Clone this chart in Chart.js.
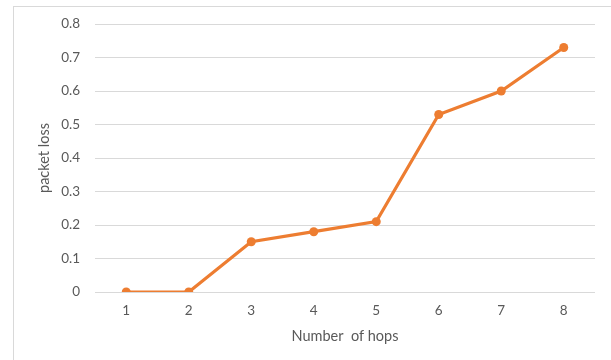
<!DOCTYPE html>
<html>
<head>
<meta charset="utf-8">
<script src="https://cdn.jsdelivr.net/npm/chart.js@4/dist/chart.umd.min.js"></script>
<style>
  html, body { margin: 0; padding: 0; background: #ffffff; }
  #wrap { position: relative; width: 611px; height: 360px; overflow: hidden; }
  #frame { position: absolute; left: 13px; top: 6px; width: 700px; height: 400px;
           border-left: 1px solid #d9d9d9; border-top: 1px solid #d9d9d9; box-sizing: border-box; }
  canvas { position: absolute; left: 0; top: 0; }
</style>
</head>
<body>
<div id="wrap">
  <div id="frame"></div>
  <canvas id="c" width="611" height="360"></canvas>
</div>
<script>
const categories = ['1', '2', '3', '4', '5', '6', '7', '8'];
const packetLoss = [0, 0, 0.15, 0.18, 0.21, 0.53, 0.60, 0.73];
const xTitle = 'Number  of hops';
const yTitle = 'packet loss';

const textColor = '#595959';
const tickFont = { family: 'Lato, "Open Sans", sans-serif', size: 13.5 };
const titleFont = { family: 'Lato, "Open Sans", sans-serif', size: 14.5 };

new Chart(document.getElementById('c'), {
  type: 'line',
  data: {
    labels: categories,
    datasets: [{
      data: packetLoss,
      borderColor: '#ED7D31',
      backgroundColor: '#ED7D31',
      borderWidth: 3.2,
      pointRadius: 4.5,
      pointHoverRadius: 4.5,
      pointBackgroundColor: '#ED7D31',
      pointBorderWidth: 0,
      tension: 0,
      fill: false
    }]
  },
  options: {
    responsive: false,
    animation: false,
    devicePixelRatio: 1,
    layout: { padding: { top: 24, right: 16, left: 0, bottom: 0 } },
    plugins: { legend: { display: false }, tooltip: { enabled: false } },
    scales: {
      x: {
        offset: true,
        grid: { display: false },
        border: { display: false },
        ticks: { color: textColor, font: tickFont, padding: 3 },
        title: { display: true, text: xTitle, color: textColor, font: titleFont, padding: { top: 0, bottom: 15 } },
        afterFit: (s) => { s.height = 68; }
      },
      y: {
        min: 0, max: 0.8,
        ticks: { stepSize: 0.1, color: textColor, font: tickFont, padding: 15,
                 callback: (v) => (Math.round(v * 10) / 10).toString() },
        grid: { color: '#d9d9d9', lineWidth: 1, drawTicks: false },
        border: { display: false },
        title: { display: true, text: yTitle, color: textColor, font: titleFont, padding: { top: 36, bottom: 0 } },
        afterFit: (s) => { s.width = 95; }
      }
    }
  }
});
</script>
</body>
</html>
